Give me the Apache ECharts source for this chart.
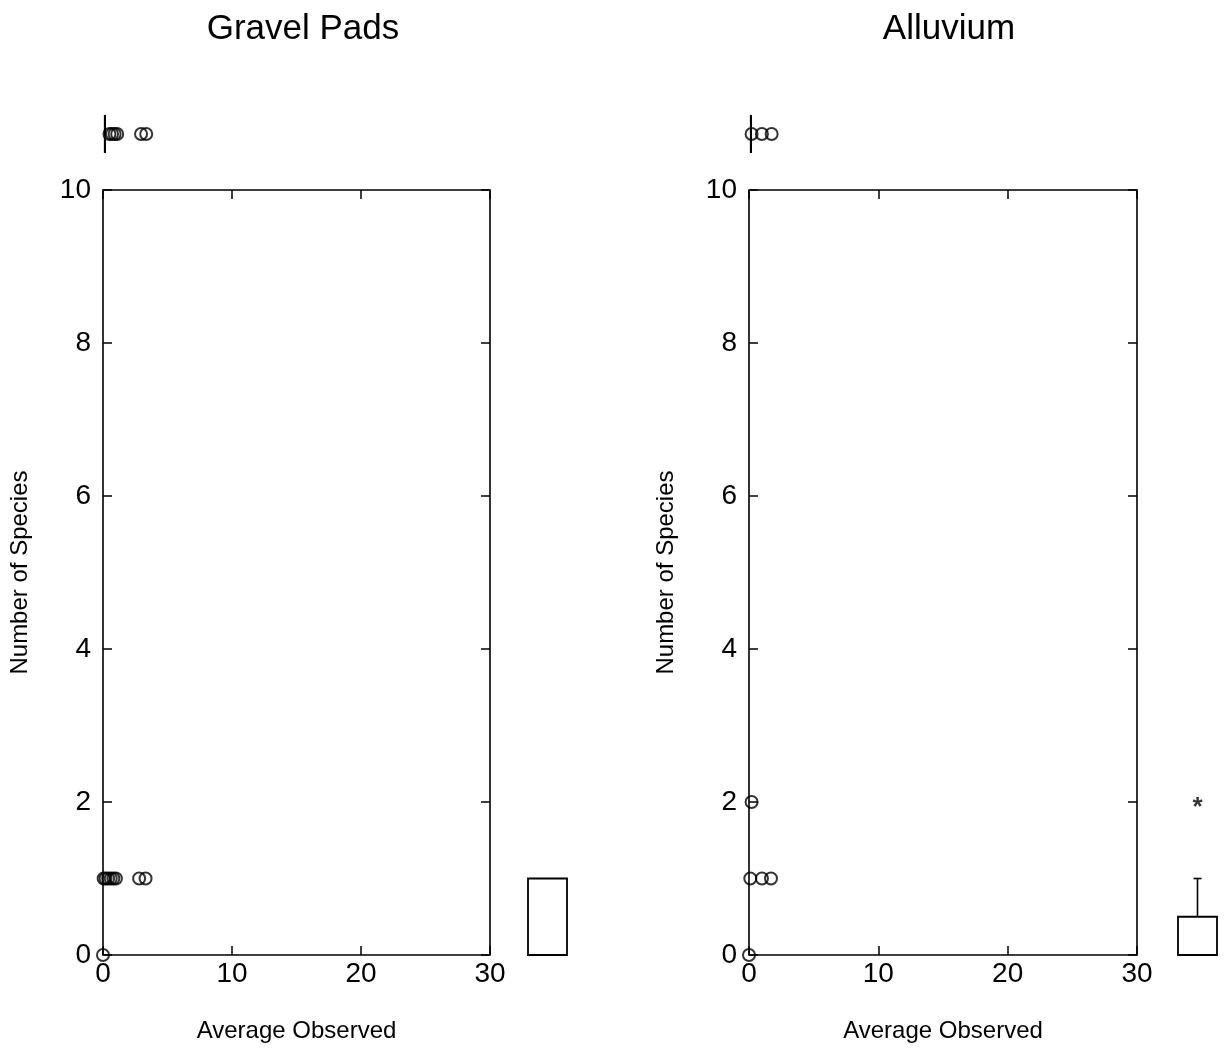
<!DOCTYPE html>
<html>
<head>
<meta charset="utf-8">
<title>Average Observed vs Number of Species</title>
<script src="https://cdn.jsdelivr.net/npm/echarts@6/dist/echarts.min.js"></script>
<style>
  html, body { margin: 0; padding: 0; background: #fff; }
  #chart { width: 1228px; height: 1051px; }
</style>
</head>
<body>
<div id="chart"></div>
<script>
// Panel titles and axis titles
const panelTitles = ['Gravel Pads', 'Alluvium'];
const xAxisTitle = 'Average Observed';
const yAxisTitle = 'Number of Species';

// Axis ranges (ticks every 10 on x, every 2 on y)
const xRange = [0, 30, 10];
const yRange = [0, 10, 2];

// Gravel Pads: [average observed, number of species]
const gravelPoints = [[0, 0], [0.05, 1], [0.2, 1], [0.4, 1], [0.6, 1], [0.8, 1], [1.0, 1], [2.8, 1], [3.3, 1]];
// x-marginal: box [min, q1, median, q3, max] and outlying values
const gravelStripBox = [0.15, 0.15, 0.15, 0.15, 0.15];
const gravelStripOut = [0.5, 0.7, 0.9, 1.1, 2.95, 3.35];
// y-marginal box and outliers
const gravelSideBox = [0, 0, 0, 1, 1];
const gravelSideOut = [];

// Alluvium
const alluviumPoints = [[0, 0], [0.1, 1], [1.0, 1], [1.7, 1], [0.2, 2]];
const alluviumStripBox = [0.15, 0.15, 0.15, 0.15, 0.15];
const alluviumStripOut = [0.2, 1.0, 1.75];
const alluviumSideBox = [0, 0, 0, 0.5, 1];
const alluviumSideOut = [2];

const FONT = 'Liberation Sans';
const INK = '#000';

const panels = [
  { title: panelTitles[0], cx: 298, left: 103, width: 387,
    points: gravelPoints, stripBox: gravelStripBox, stripOut: gravelStripOut,
    sideBox: gravelSideBox, sideOut: gravelSideOut },
  { title: panelTitles[1], cx: 944, left: 749, width: 388,
    points: alluviumPoints, stripBox: alluviumStripBox, stripOut: alluviumStripOut,
    sideBox: alluviumSideBox, sideOut: alluviumSideOut }
];

const MAIN_TOP = 190, MAIN_H = 765;
const STRIP_TOP = 115, STRIP_H = 38;
const SIDE_W = 75, BOX_W = 39;
const PANEL_SIDE_LEFT = [510, 1167];

const grids = [], xAxes = [], yAxes = [], series = [], titles = [];

function hiddenAxis(extra) {
  return Object.assign({ show: false, type: 'value' }, extra);
}

// vertical box (y-marginal): item = [xCenter, min, q1, med, q3, max]
function renderVBox(params, api) {
  const xc = api.value(0);
  const lo = api.coord([xc, api.value(1)]);
  const q1 = api.coord([xc, api.value(2)]);
  const md = api.coord([xc, api.value(3)]);
  const q3 = api.coord([xc, api.value(4)]);
  const hi = api.coord([xc, api.value(5)]);
  const half = BOX_W / 2, cap = 4;
  const style = { stroke: INK, lineWidth: 1.6, fill: null };
  const children = [
    { type: 'rect', shape: { x: q3[0] - half, y: q3[1], width: BOX_W, height: q1[1] - q3[1] }, style: { stroke: INK, lineWidth: 1.8, fill: '#fff' } },
    { type: 'line', shape: { x1: md[0] - half, y1: md[1], x2: md[0] + half, y2: md[1] }, style }
  ];
  if (hi[1] < q3[1]) {
    children.push({ type: 'line', shape: { x1: hi[0], y1: hi[1], x2: q3[0], y2: q3[1] }, style });
    children.push({ type: 'line', shape: { x1: hi[0] - cap, y1: hi[1], x2: hi[0] + cap, y2: hi[1] }, style });
  }
  if (lo[1] > q1[1]) {
    children.push({ type: 'line', shape: { x1: lo[0], y1: lo[1], x2: q1[0], y2: q1[1] }, style });
    children.push({ type: 'line', shape: { x1: lo[0] - cap, y1: lo[1], x2: lo[0] + cap, y2: lo[1] }, style });
  }
  return { type: 'group', children };
}

// horizontal box (x-marginal): item = [yCenter, min, q1, med, q3, max]
function renderHBox(params, api) {
  const yc = api.value(0);
  const top = api.coord([0, 1])[1];
  const bottom = api.coord([0, 0])[1];
  const q1 = api.coord([api.value(2), yc]);
  const md = api.coord([api.value(3), yc]);
  const q3 = api.coord([api.value(4), yc]);
  const lo = api.coord([api.value(1), yc]);
  const hi = api.coord([api.value(5), yc]);
  const style = { stroke: INK, lineWidth: 2, fill: null };
  const children = [
    { type: 'rect', shape: { x: q1[0], y: top, width: Math.max(q3[0] - q1[0], 0), height: bottom - top }, style },
    { type: 'line', shape: { x1: md[0], y1: top, x2: md[0], y2: bottom }, style }
  ];
  if (hi[0] > q3[0]) children.push({ type: 'line', shape: { x1: q3[0], y1: md[1], x2: hi[0], y2: md[1] }, style });
  if (lo[0] < q1[0]) children.push({ type: 'line', shape: { x1: lo[0], y1: md[1], x2: q1[0], y2: md[1] }, style });
  return { type: 'group', children };
}

const circleStyle = { color: 'rgba(0,0,0,0)', borderColor: INK, borderWidth: 2 };

panels.forEach((p, i) => {
  titles.push({
    text: p.title, left: p.cx, top: 7, textAlign: 'center',
    textStyle: { fontFamily: FONT, fontSize: 35, fontWeight: 'normal', color: INK }
  });

  // main scatter grid
  const gMain = grids.length;
  grids.push({ left: p.left, top: MAIN_TOP, width: p.width, height: MAIN_H, show: true,
    borderColor: INK, borderWidth: 1.6, backgroundColor: 'transparent', containLabel: false });
  const xMain = xAxes.length;
  const tickStyle = { show: true, inside: true, length: 9, lineStyle: { color: INK, width: 1.5 } };
  const hiddenLine = { show: false, onZero: false };
  xAxes.push({
    gridIndex: gMain, type: 'value', position: 'bottom', min: xRange[0], max: xRange[1], interval: xRange[2],
    axisLine: hiddenLine, axisTick: tickStyle, splitLine: { show: false },
    axisLabel: { color: INK, fontFamily: FONT, fontSize: 28, margin: 5 },
    name: xAxisTitle, nameLocation: 'middle', nameGap: 64,
    nameTextStyle: { color: INK, fontFamily: FONT, fontSize: 24 }
  });
  xAxes.push({
    gridIndex: gMain, type: 'value', position: 'top', min: xRange[0], max: xRange[1], interval: xRange[2],
    axisLine: hiddenLine, axisTick: tickStyle, splitLine: { show: false }, axisLabel: { show: false }
  });
  const yMain = yAxes.length;
  yAxes.push({
    gridIndex: gMain, type: 'value', position: 'left', min: yRange[0], max: yRange[1], interval: yRange[2],
    axisLine: hiddenLine, axisTick: tickStyle, splitLine: { show: false },
    axisLabel: { color: INK, fontFamily: FONT, fontSize: 28, margin: 12 },
    name: yAxisTitle, nameLocation: 'middle', nameGap: 71, nameRotate: 90,
    nameTextStyle: { color: INK, fontFamily: FONT, fontSize: 24 }
  });
  yAxes.push({
    gridIndex: gMain, type: 'value', position: 'right', min: yRange[0], max: yRange[1], interval: yRange[2],
    axisLine: hiddenLine, axisTick: tickStyle, splitLine: { show: false }, axisLabel: { show: false }
  });
  series.push({
    type: 'scatter', xAxisIndex: xMain, yAxisIndex: yMain, data: p.points, clip: false,
    symbol: 'circle', symbolSize: 12, itemStyle: circleStyle,
    emphasis: { disabled: true }, z: 5
  });

  // x-marginal strip above the plot
  const gStrip = grids.length;
  grids.push({ left: p.left, top: STRIP_TOP, width: p.width, height: STRIP_H, show: false });
  const xStrip = xAxes.length;
  xAxes.push(hiddenAxis({ gridIndex: gStrip, min: xRange[0], max: xRange[1] }));
  const yStrip = yAxes.length;
  yAxes.push(hiddenAxis({ gridIndex: gStrip, min: 0, max: 1 }));
  series.push({
    type: 'custom', xAxisIndex: xStrip, yAxisIndex: yStrip, renderItem: renderHBox,
    data: [[0.5].concat(p.stripBox)], clip: false, silent: true
  });
  series.push({
    type: 'scatter', xAxisIndex: xStrip, yAxisIndex: yStrip, clip: false,
    data: p.stripOut.map(v => [v, 0.5]), symbol: 'circle', symbolSize: 12,
    itemStyle: circleStyle, emphasis: { disabled: true }
  });

  // y-marginal box to the right of the plot
  const gSide = grids.length;
  grids.push({ left: PANEL_SIDE_LEFT[i], top: MAIN_TOP, width: SIDE_W, height: MAIN_H, show: false });
  const xSide = xAxes.length;
  xAxes.push(hiddenAxis({ gridIndex: gSide, min: 0, max: 2 }));
  const ySide = yAxes.length;
  yAxes.push(hiddenAxis({ gridIndex: gSide, min: yRange[0], max: yRange[1] }));
  series.push({
    type: 'custom', xAxisIndex: xSide, yAxisIndex: ySide, renderItem: renderVBox,
    data: [[1].concat(p.sideBox)], clip: false, silent: true
  });
  if (p.sideOut.length) {
    series.push({
      type: 'scatter', xAxisIndex: xSide, yAxisIndex: ySide, clip: false,
      data: p.sideOut.map(v => [1, v]), symbolSize: 0,
      label: { show: true, position: 'inside', formatter: '*', color: INK,
        fontFamily: FONT, fontSize: 26, fontWeight: 'bold', offset: [0, 6] },
      emphasis: { disabled: true }
    });
  }
});

const chart = echarts.init(document.getElementById('chart'), null, { renderer: 'canvas' });
chart.setOption({
  backgroundColor: '#fff',
  animation: false,
  title: titles,
  grid: grids,
  xAxis: xAxes,
  yAxis: yAxes,
  series: series
});
</script>
</body>
</html>
